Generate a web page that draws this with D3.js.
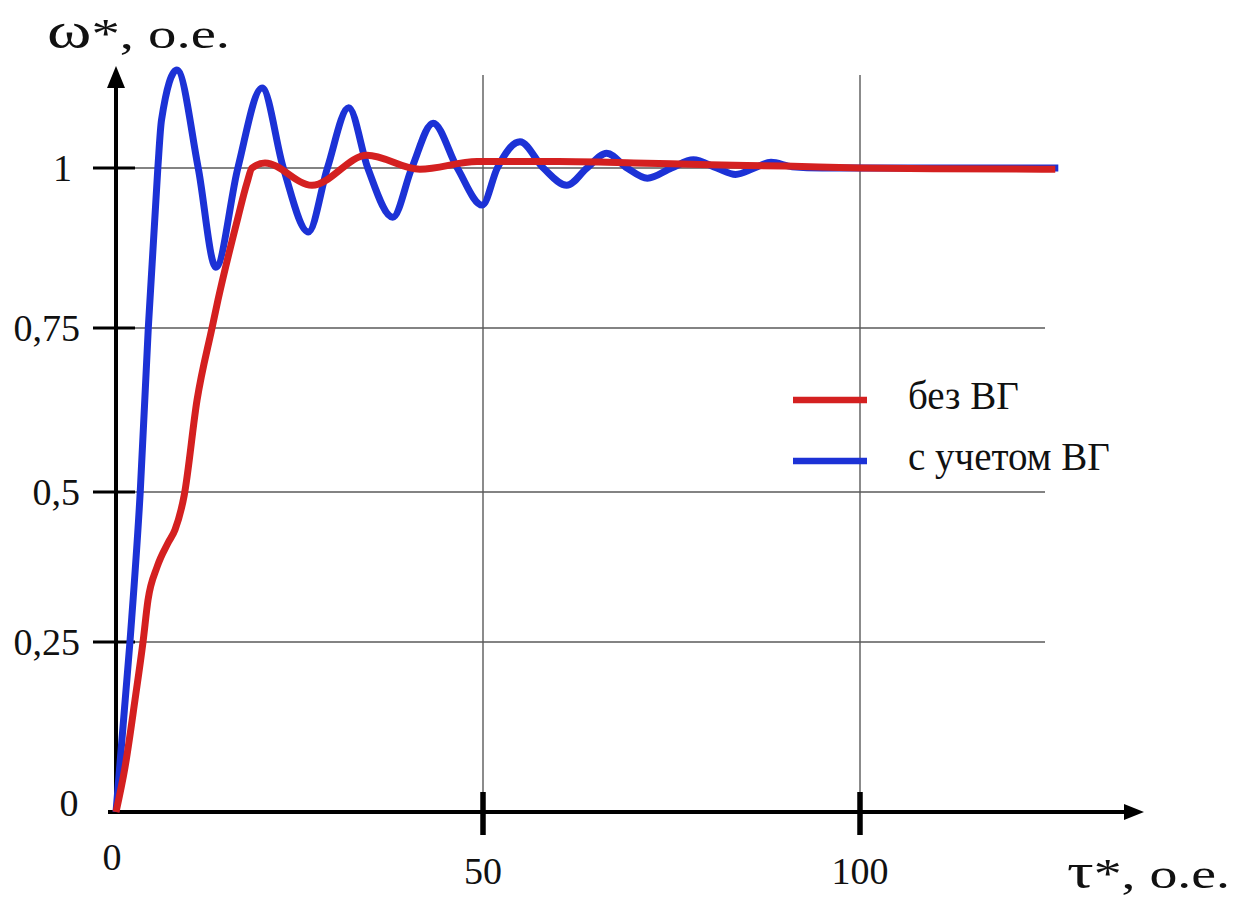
<!DOCTYPE html>
<html>
<head>
<meta charset="utf-8">
<script src="https://cdn.jsdelivr.net/npm/d3@7"></script>
<style>
  html, body { margin: 0; padding: 0; background: #ffffff; }
  svg { display: block; }
  text { font-family: "Liberation Serif", "Times New Roman", serif; fill: #111; }
</style>
</head>
<body>
<svg id="chart" width="1248" height="902"></svg>
<script>
// ---- data ----
const blueT = [0,1.9,3.3,4.4,5.7,6.2,8.3,11.2,13.6,16.6,19.9,22.8,26.2,28.8,31.7,34.3,37.7,40.3,43.2,46.5,49.9,51.9,54.9,58,61.1,63.8,66.4,69.1,71.8,75,77.9,81,83.5,86,88.2,91,95,110,126.3];
const blueV = [0,0.25,0.5,0.75,1.0,1.075,1.153,1.0,0.845,1.0,1.125,1.0,0.9,1.0,1.094,1.0,0.923,1.0,1.07,1.0,0.942,1.0,1.041,1.0,0.973,1.0,1.023,1.0,0.984,1.0,1.013,1.0,0.99,1.0,1.009,1.002,1.0,1.0,1.0];
const redT = [0,1.23,2.59,3.68,4.36,5.59,7.08,8.04,9.3,11.04,13.08,13.9,16.62,17.85,18.53,20.3,26.7,34.2,41.4,49.2,60,70,80,90,100,110,125.9];
const redV = [0,0.066,0.165,0.25,0.32,0.375,0.415,0.437,0.495,0.64,0.75,0.794,0.923,0.977,1.0,1.008,0.973,1.02,0.998,1.01,1.01,1.008,1.005,1.003,1.0,0.999,0.998];
const seriesNames = ["без ВГ", "с учетом ВГ"];
const seriesColors = ["#d42020", "#1c32d6"];
const xTicks = [50, 100];
const xTickLabels = ["50", "100"];
const yTicks = [0.25, 0.5, 0.75, 1];
const yTickLabels = ["0,25", "0,5", "0,75", "1"];
const originLabel = "0";

// ---- scales (hand-drawn original: piecewise linear) ----
const x = d3.scaleLinear().domain([0, 50, 100]).range([116, 483, 860]);
const y = d3.scaleLinear().domain([0, 0.25, 0.5, 0.75, 1]).range([812, 642, 492, 328, 168]);

const svg = d3.select("#chart");

// ---- grid ----
const grid = svg.append("g");
grid.selectAll("line.h").data(yTicks).join("line")
  .attr("x1", 135).attr("x2", 1045)
  .attr("y1", d => y(d)).attr("y2", d => y(d))
  .attr("stroke", "#5a5a5a").attr("stroke-width", 1.4);
grid.selectAll("line.v").data(xTicks).join("line")
  .attr("x1", d => x(d)).attr("x2", d => x(d))
  .attr("y1", 75).attr("y2", 795)
  .attr("stroke", "#5a5a5a").attr("stroke-width", 1.4);

// ---- axes ----
const ax = svg.append("g");
ax.append("line").attr("x1", 108).attr("x2", 1128).attr("y1", y(0)).attr("y2", y(0))
  .attr("stroke", "#000").attr("stroke-width", 4);
ax.append("path").attr("d", `M1144,${y(0)} L1124,${y(0)-8} L1124,${y(0)+8} Z`).attr("fill", "#000");
ax.append("line").attr("x1", x(0)).attr("x2", x(0)).attr("y1", y(0) + 2).attr("y2", 84)
  .attr("stroke", "#000").attr("stroke-width", 4);
ax.append("path").attr("d", `M${x(0)},66 L${x(0)-9},88 L${x(0)+9},88 Z`).attr("fill", "#000");

// y ticks
ax.selectAll("line.yt").data(yTicks).join("line")
  .attr("x1", 93).attr("x2", 135)
  .attr("y1", d => y(d)).attr("y2", d => y(d))
  .attr("stroke", "#000").attr("stroke-width", 3);
// x ticks
ax.selectAll("line.xt").data(xTicks).join("line")
  .attr("x1", d => x(d)).attr("x2", d => x(d))
  .attr("y1", 792).attr("y2", 835)
  .attr("stroke", "#000").attr("stroke-width", 5.5);

// tick labels
svg.selectAll("text.yl").data(yTicks).join("text")
  .attr("x", d => d === 1 ? 72 : 80)
  .attr("y", d => y(d)).attr("dy", "0.34em")
  .attr("text-anchor", "end").attr("font-size", 38)
  .text((d, i) => yTickLabels[i]);
svg.selectAll("text.xl").data(xTicks).join("text")
  .attr("x", d => x(d)).attr("y", 871).attr("dy", "0.34em")
  .attr("text-anchor", "middle").attr("font-size", 38)
  .text((d, i) => xTickLabels[i]);
svg.append("text").attr("x", 69).attr("y", 803).attr("dy", "0.34em")
  .attr("text-anchor", "middle").attr("font-size", 38).text(originLabel);
svg.append("text").attr("x", 112).attr("y", 857).attr("dy", "0.34em")
  .attr("text-anchor", "middle").attr("font-size", 38).text(originLabel);

// axis titles
function axisTitle(px, py, len, greek) {
  const t = svg.append("text").attr("x", px).attr("y", py)
    .attr("textLength", len).attr("lengthAdjust", "spacingAndGlyphs");
  t.append("tspan").attr("font-size", 50).text(greek);
  t.append("tspan").attr("font-size", 42).text("*, о.е.");
}
axisTitle(47, 48, 183, "ω");
axisTitle(1067, 888, 163, "τ");

// ---- curves ----
const line = d3.line().x(d => x(d[0])).y(d => y(d[1])).curve(d3.curveMonotoneX);
const blueData = blueT.map((t, i) => [t, blueV[i]]);
const redData = redT.map((t, i) => [t, redV[i]]);
svg.append("path").datum(blueData).attr("d", line)
  .attr("fill", "none").attr("stroke", seriesColors[1]).attr("stroke-width", 7)
  .attr("stroke-linejoin", "round");
svg.append("path").datum(redData).attr("d", line)
  .attr("fill", "none").attr("stroke", seriesColors[0]).attr("stroke-width", 7)
  .attr("stroke-linejoin", "round");

// ---- legend ----
const legY = [400, 461];
const leg = svg.append("g");
seriesNames.forEach((name, i) => {
  leg.append("line").attr("x1", 793).attr("x2", 867).attr("y1", legY[i]).attr("y2", legY[i])
    .attr("stroke", seriesColors[i]).attr("stroke-width", 6.5);
  leg.append("text").attr("x", 908).attr("y", legY[i] + 9)
    .attr("font-size", 39).text(name);
});
</script>
</body>
</html>
